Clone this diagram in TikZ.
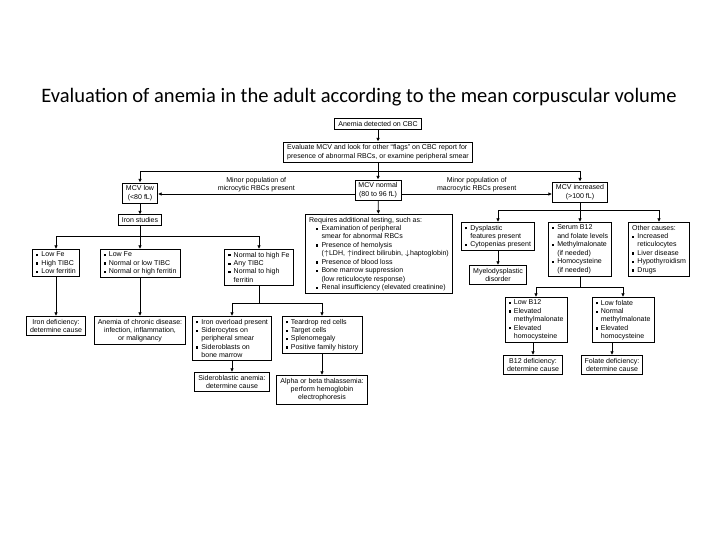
\documentclass[tikz,border=0pt]{standalone}
\usepackage{fontspec}
\setmainfont{Liberation Sans}
\newfontfamily\titlefont{Carlito}
\usetikzlibrary{arrows.meta}
\newcommand{\sq}{\rule[0.5pt]{1.6pt}{1.6pt}\hspace{2.2pt}}
\newcommand{\hang}{\hphantom{\sq}}

\begin{document}
\begin{tikzpicture}[
    x=0.025cm, y=-0.025cm,
    font=\fontsize{5}{6}\selectfont,
    box/.style={draw, line width=0.6pt, inner xsep=2.5pt, inner ysep=1.8pt, align=center},
    lbox/.style={box, align=left},
    lbl/.style={align=center, inner sep=0.8pt},
    arr/.style={-{Latex[length=2.6pt,width=2.6pt]}, line width=0.6pt},
    ln/.style={line width=0.6pt}
]
\useasboundingbox (0,0) rectangle (720,540);

\node[font=\titlefont\fontsize{14.6}{16}\selectfont] (title) at (359,97)
   {Evaluation of anemia in the adult according to the mean corpuscular volume};

% ---------- top of the tree ----------
\node[box] (anemia) at (378,124) {Anemia detected on CBC};
\node[lbox] (evaluate) at (378,152)
   {Evaluate MCV and look for other ``flags'' on CBC report for\\presence of abnormal RBCs, or examine peripheral smear};
\node[box] (mcvnorm) at (378,190) {MCV normal\\(80 to 96 fL)};
\node[box] (mcvlow) at (140,193) {MCV low\\(<80 fL)};
\node[box] (mcvinc) at (580,192) {MCV increased\\(>100 fL)};
\coordinate (split) at (378,171);
\coordinate (side) at (378,194);
\draw[arr] (anemia) -- (evaluate);
\draw[arr] (evaluate) -- (mcvnorm);
\draw[ln] (split -| mcvlow) -- (split -| mcvinc);
\draw[arr] (split -| mcvlow) -- (mcvlow);
\draw[arr] (split -| mcvinc) -- (mcvinc);
\draw[arr] (side -| mcvnorm.west) -- node[lbl, above] {Minor population of\\microcytic RBCs present}
   (side -| mcvlow.east);
\draw[arr] (side -| mcvnorm.east) -- node[lbl, above] {Minor population of\\macrocytic RBCs present}
   (side -| mcvinc.west);

% ---------- MCV low ----------
\node[box] (iron) at (140,220) {Iron studies};
\node[lbox, anchor=north] (lowfe) at (56,249) {\sq Low Fe\\\sq High TIBC\\\sq Low ferritin};
\node[lbox, anchor=north] (lowfe2) at (140,249)
   {\sq Low Fe\\\sq Normal or low TIBC\\\sq Normal or high ferritin};
\node[lbox, anchor=north] (normfe) at (259,249)
   {\sq Normal to high Fe\\\sq Any TIBC\\\sq Normal to high\\\hang ferritin};
\coordinate (ironsplit) at (140,236);
\draw[arr] (mcvlow) -- (iron);
\draw[ln] (ironsplit -| lowfe) -- (ironsplit -| normfe);
\draw[arr] (iron) -- (lowfe2);
\draw[arr] (ironsplit -| lowfe) -- (lowfe);
\draw[arr] (ironsplit -| normfe) -- (normfe);

\node[box, anchor=north] (irondef) at (56,316) {Iron deficiency:\\determine cause};
\node[box, anchor=north] (acd) at (140,316)
   {Anemia of chronic disease:\\infection, inflammation,\\or malignancy};
\node[lbox, anchor=north] (ironover) at (232,316)
   {\sq Iron overload present\\\sq Siderocytes on\\\hang peripheral smear\\\sq Sideroblasts on\\\hang bone marrow};
\node[lbox, anchor=north] (teardrop) at (322,316)
   {\sq Teardrop red cells\\\sq Target cells\\\sq Splenomegaly\\\sq Positive family history};
\node[box, anchor=north] (sidero) at (232,372) {Sideroblastic anemia:\\determine cause};
\node[box, anchor=north] (thal) at (322,375)
   {Alpha or beta thalassemia:\\perform hemoglobin\\electrophoresis};
\coordinate (fesplit) at (259,303);
\draw[arr] (lowfe) -- (irondef);
\draw[arr] (lowfe2) -- (acd);
\draw[ln] (normfe) -- (fesplit);
\draw[ln] (fesplit -| ironover) -- (fesplit -| teardrop);
\draw[arr] (fesplit -| ironover) -- (ironover);
\draw[arr] (fesplit -| teardrop) -- (teardrop);
\draw[arr] (ironover) -- (sidero);
\draw[arr] (teardrop) -- (thal);

% ---------- MCV normal ----------
\node[lbox, anchor=north] (addtest) at (379,214)
   {Requires additional testing, such as:\\
    \quad\sq Examination of peripheral\\
    \quad\hang smear for abnormal RBCs\\
    \quad\sq Presence of hemolysis\\
    \quad\hang ($\uparrow$LDH, $\uparrow$indirect bilirubin, $\downarrow$haptoglobin)\\
    \quad\sq Presence of blood loss\\
    \quad\sq Bone marrow suppression\\
    \quad\hang (low reticulocyte response)\\
    \quad\sq Renal insufficiency (elevated creatinine)};
\draw[arr] (mcvnorm) -- (addtest);

% ---------- MCV increased ----------
\node[lbox, anchor=north] (dysp) at (498,222)
   {\sq Dysplastic\\\hang features present\\\sq Cytopenias present};
\node[lbox, anchor=north] (serum) at (580,222)
   {\sq Serum B12\\\hang and folate levels\\\sq Methylmalonate\\\hang (if needed)\\\sq Homocysteine\\\hang (if needed)};
\node[lbox, anchor=north] (other) at (659,222)
   {Other causes:\\\sq Increased\\\hang reticulocytes\\\sq Liver disease\\\sq Hypothyroidism\\\sq Drugs};
\node[box, anchor=north] (myelo) at (498,265) {Myelodysplastic\\disorder};
\coordinate (incsplit) at (580,210);
\draw[ln] (mcvinc) -- (incsplit);
\draw[ln] (incsplit -| dysp) -- (incsplit -| other);
\draw[arr] (incsplit -| dysp) -- (dysp);
\draw[arr] (incsplit) -- (serum);
\draw[arr] (incsplit -| other) -- (other);
\draw[arr] (dysp) -- (myelo);

\node[lbox, anchor=north] (lowb12) at (536,297)
   {\sq Low B12\\\sq Elevated\\\hang methylmalonate\\\sq Elevated\\\hang homocysteine};
\node[lbox, anchor=north] (lowfol) at (623,297)
   {\sq Low folate\\\sq Normal\\\hang methylmalonate\\\sq Elevated\\\hang homocysteine};
\node[box, anchor=north] (b12def) at (533,355) {B12 deficiency:\\determine cause};
\node[box, anchor=north] (foldef) at (612,355) {Folate deficiency:\\determine cause};
\coordinate (b12split) at (580,287);
\draw[ln] (serum) -- (b12split);
\draw[ln] (b12split -| lowb12) -- (b12split -| lowfol);
\draw[arr] (b12split -| lowb12) -- (lowb12);
\draw[arr] (b12split -| lowfol) -- (lowfol);
\draw[arr] (b12def.north |- lowb12.south) -- (b12def);
\draw[arr] (foldef.north |- lowfol.south) -- (foldef);

\end{tikzpicture}
\end{document}
